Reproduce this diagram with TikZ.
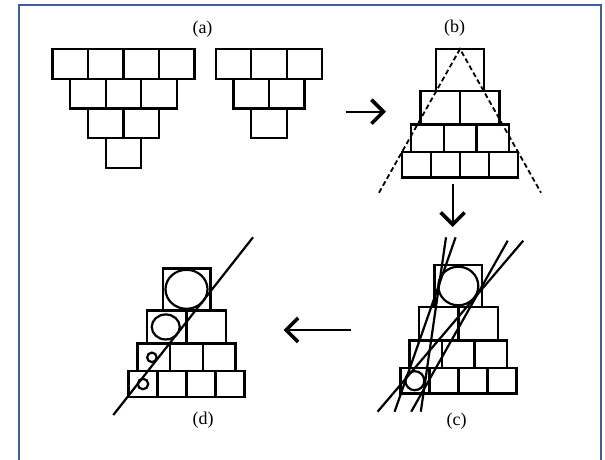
\documentclass[tikz,border=0pt]{standalone}
\usepackage{fontspec}
\setmainfont{Liberation Serif}
\usetikzlibrary{arrows.meta,shapes.geometric}
\definecolor{frameblue}{RGB}{61,94,163}
\begin{document}
\begin{tikzpicture}[
  x=1pt, y=-1pt,
  cell/.style={draw, line width=2.4pt, inner sep=0pt, outer sep=0pt,
               minimum width=35.5pt, minimum height=29.75pt},
  ring/.style={ellipse, draw, line width=2.2pt, inner sep=0pt, outer sep=0pt},
  tangent/.style={line width=2.2pt},
  guide/.style={line width=1.8pt, dash pattern=on 5pt off 3pt},
  flow/.style={-{Straight Barb[length=12pt, width=24pt, line width=3.6pt]},
               line width=1.8pt},
  tag/.style={font=\fontsize{18}{21}\selectfont, inner sep=0pt}
]
  \useasboundingbox (0,0) rectangle (605,460);
  \draw[frameblue, line width=2.2pt] (19,5) rectangle (601,472);

  % (a) deux pyramides invers\'ees
  \foreach \r in {1,...,4} {
    \pgfmathtruncatemacro\n{5-\r}
    \foreach \i in {1,...,\n} {
      \node[cell] (a1-\r-\i) at ({52.5+(\r-1)*17.75+(\i-0.5)*35.5}, {49+(\r-0.5)*29.75}) {};
    }
  }
  \foreach \r in {1,...,3} {
    \pgfmathtruncatemacro\n{4-\r}
    \foreach \i in {1,...,\n} {
      \node[cell] (a2-\r-\i) at ({215.7+(\r-1)*17.75+(\i-0.5)*35.5}, {49+(\r-0.5)*29.75}) {};
    }
  }

  % (b), (c), (d) pyramides droites
  \foreach \p/\cx/\ty in {b/460/49, c/458.3/265, d/186.5/268.3} {
    \foreach \r/\w/\h/\y in {1/47.6/42/0, 2/39.5/33.3/42, 3/32.6/27.5/75.3, 4/29/25.8/102.8} {
      \foreach \i in {1,...,\r} {
        \node[cell, minimum width=\w pt, minimum height=\h pt] (\p-\r-\i)
          at ({\cx+(\i-(\r+1)/2)*\w}, {\ty+\y+\h/2}) {};
      }
    }
  }

  % Droites en pointill\'e (b)
  \coordinate (b-left) at (379,192.7);
  \coordinate (b-right) at (541,192.7);
  \draw[guide] (b-left) -- (b-1-1.north) -- (b-right);

  % Cercles et tangentes (c)
  \node[ring, minimum width=40pt, minimum height=38.6pt] (c-big) at (c-1-1) {};
  \node[ring, minimum size=19pt] (c-small) at (c-4-1) {};
  \coordinate (c-t1) at (446,237.3);   \coordinate (c-s1) at (420.8,411.7);
  \coordinate (c-t2) at (455.6,237.3); \coordinate (c-s2) at (394.6,411.7);
  \coordinate (c-t3) at (507.7,240.7); \coordinate (c-s3) at (411.2,411.7);
  \coordinate (c-t4) at (523.2,240.7); \coordinate (c-s4) at (377.6,411.7);
  \foreach \k in {1,...,4} {
    \draw[tangent] (c-t\k) -- (c-s\k);
  }

  % Cercles et droite (d)
  \node[ring, minimum width=42pt, minimum height=39pt] (d-big) at (d-1-1) {};
  \node[ring, minimum width=28pt, minimum height=25pt] (d-mid) at ([xshift=-1pt]d-2-1) {};
  \node[ring, minimum size=9.5pt] (d-low) at ([xshift=-2pt]d-3-1) {};
  \node[ring, minimum size=10.5pt] (d-foot) at (d-4-1) {};
  \coordinate (d-top) at (253,237.3);
  \coordinate (d-bottom) at (113.3,415);
  \draw[tangent] (d-bottom) -- (d-top);

  % Fl\`eches
  \coordinate (ab-from) at (345.7,111.7); \coordinate (ab-to) at (386,111.7);
  \coordinate (bc-from) at (452.7,184);   \coordinate (bc-to) at (452.7,227);
  \coordinate (cd-from) at (350.6,330);   \coordinate (cd-to) at (283.5,330);
  \draw[flow] (ab-from) -- (ab-to);
  \draw[flow] (bc-from) -- (bc-to);
  \draw[flow] (cd-from) -- (cd-to);

  % Annotations
  \node[tag] (lab-a) at (202.5,29) {(a)};
  \node[tag] (lab-b) at (454.7,28.5) {(b)};
  \node[tag] (lab-c) at (456.7,421) {(c)};
  \node[tag] (lab-d) at (203,420) {(d)};
\end{tikzpicture}
\end{document}
